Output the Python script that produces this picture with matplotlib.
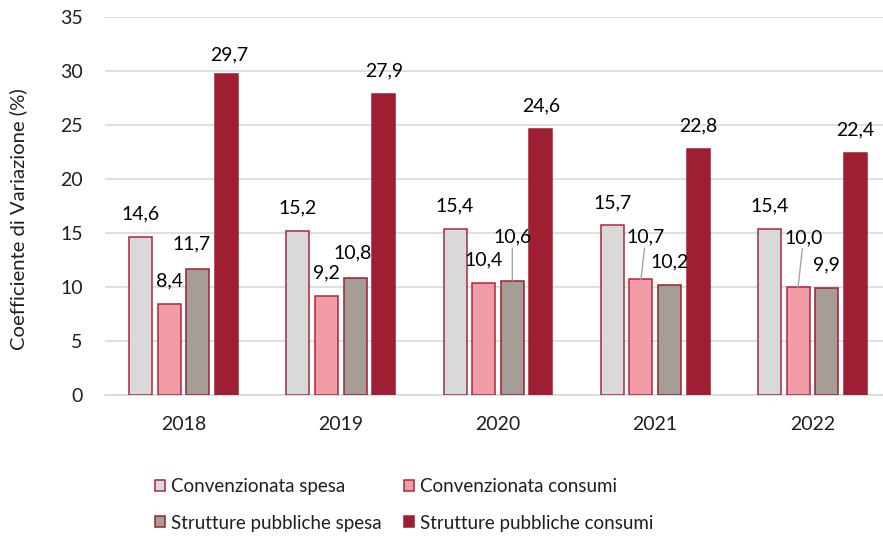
import matplotlib
matplotlib.use("Agg")
import matplotlib.pyplot as plt
import numpy as np

# ---- data ----
years = ["2018", "2019", "2020", "2021", "2022"]
series_names = ["Convenzionata spesa", "Convenzionata consumi",
                "Strutture pubbliche spesa", "Strutture pubbliche consumi"]
conv_spesa = [14.6, 15.2, 15.4, 15.7, 15.4]
conv_consumi = [8.4, 9.2, 10.4, 10.7, 10.0]
strut_spesa = [11.7, 10.8, 10.6, 10.2, 9.9]
strut_consumi = [29.7, 27.9, 24.6, 22.8, 22.4]
yticks = [0, 5, 10, 15, 20, 25, 30, 35]

# ---- style ----
plt.rcParams['font.family'] = ['Lato', 'DejaVu Sans']
fills = ["#d9d9d9", "#f29ca6", "#a69d96", "#9d1f31"]
edges = ["#a8283d", "#a8283d", "#9d1f31", "#9d1f31"]
FS = 14

# label placement tweaks (series index, year index) -> (dx px, dy px to baseline, leader)
default_off = (0, 17.5, False)
label_off = {
    (3, 0): (3, 13.5, False),
    (2, 0): (-6, 19, False),
    (2, 1): (-2, 19.5, False),
    (2, 2): (0, 38, True),
    (1, 3): (5, 37, True),
    (1, 4): (5.5, 44, True),
}

W, H = 883, 536
fig = plt.figure(figsize=(W / 100, H / 100), dpi=100)
ax = fig.add_axes([105 / W, (H - 395) / H, 786 / W, 378 / H])

x = np.arange(len(years))
data = [conv_spesa, conv_consumi, strut_spesa, strut_consumi]
step = 0.182
width = 0.147
handles = []
for i, vals in enumerate(data):
    xs = x + (i - 1.5) * step
    b = ax.bar(xs, vals, width=width, color=fills[i], edgecolor=edges[i],
               linewidth=1.1, label=series_names[i], zorder=3)
    handles.append(b)
    for j, v in enumerate(vals):
        dx, dy, leader = label_off.get((i, j), default_off)
        txt = f"{v:.1f}".replace(".", ",")
        kw = {}
        if leader:
            kw["arrowprops"] = dict(arrowstyle="-", color="#a6a6a6", lw=1.0,
                                    shrinkA=0, shrinkB=0)
        ax.annotate(txt, xy=(xs[j], v), xytext=(dx, dy),
                    textcoords="offset pixels", ha="center", va="baseline",
                    fontsize=FS, color="black", zorder=5, **kw)

ax.set_xlim(-0.5, len(years) - 0.5)
ax.set_ylim(0, 35)
ax.set_yticks(yticks)
ax.set_yticklabels([str(t) for t in yticks])
ax.set_xticks(x)
ax.set_xticklabels(years)
ax.tick_params(axis="y", length=0, pad=16, labelsize=FS, labelcolor="#1f1f1f")
ax.tick_params(axis="x", length=0, pad=15, labelsize=FS, labelcolor="#1f1f1f")
ax.yaxis.grid(True, color="#d9d9d9", linewidth=1.2, zorder=0)
ax.set_axisbelow(True)
for s in ["top", "right", "left"]:
    ax.spines[s].set_visible(False)
ax.spines["bottom"].set_color("#d9d9d9")
ax.spines["bottom"].set_linewidth(1.2)

fig.text(18 / W, 1 - 219.5 / H, "Coefficiente di Variazione (%)", rotation=90,
         ha="center", va="center", fontsize=14.6, color="#1f1f1f")

order = [0, 2, 1, 3]
LFS = 13.5
leg = fig.legend([handles[k] for k in order], [series_names[k] for k in order],
                 ncol=2, loc="upper left", bbox_to_anchor=(155 / W, 1 - 478 / H),
                 frameon=False, fontsize=LFS, handlelength=0.53, handleheight=0.53,
                 handletextpad=0.3, columnspacing=1.23, labelspacing=1.04,
                 borderpad=0, borderaxespad=0)
for t in leg.get_texts():
    t.set_color("#1f1f1f")

fig.savefig("out.png", dpi=100)
